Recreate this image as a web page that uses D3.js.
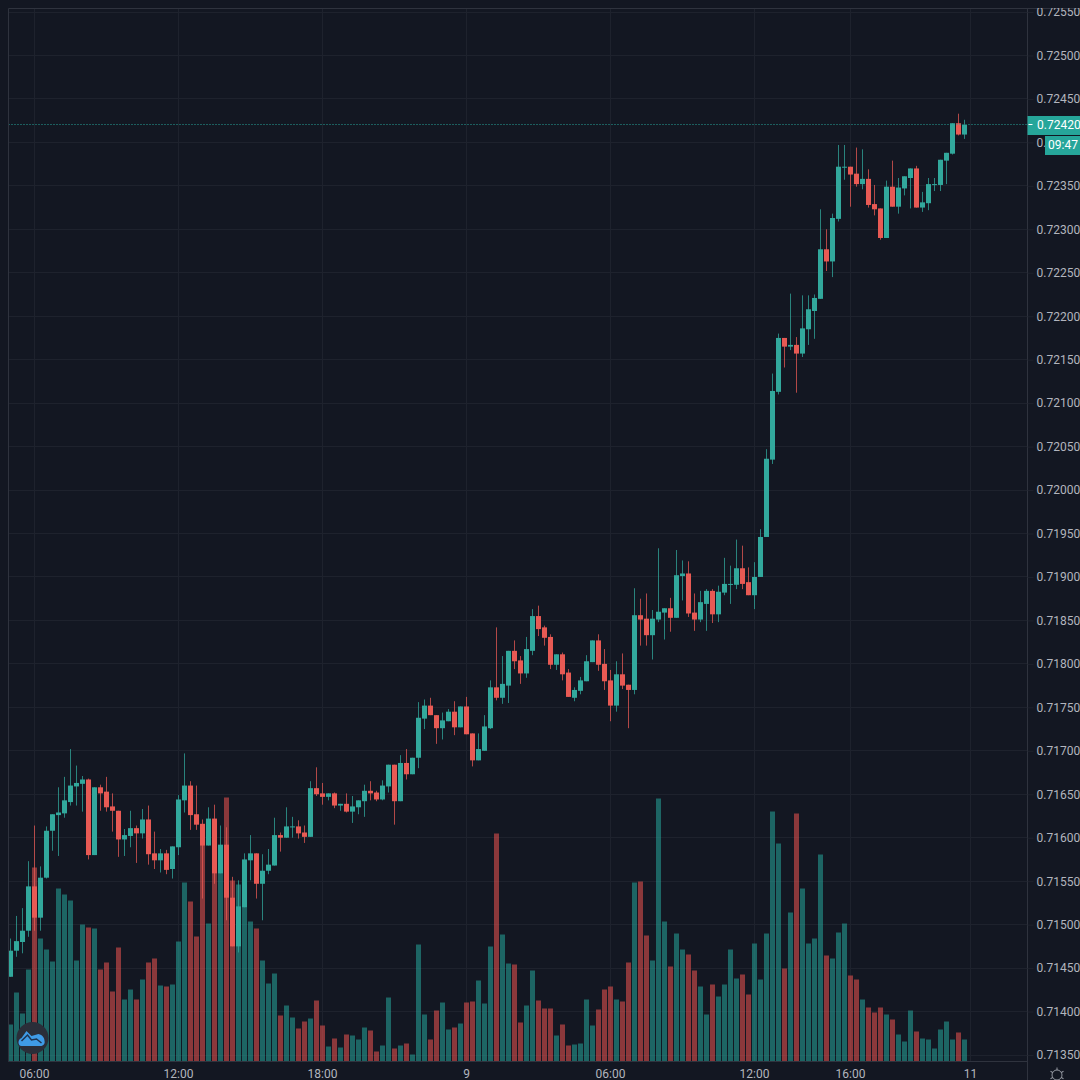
<!DOCTYPE html>
<html>
<head>
<meta charset="utf-8">
<script src="https://cdn.jsdelivr.net/npm/d3@7"></script>
<style>
  html, body { margin: 0; padding: 0; background: #131722; }
  svg { display: block; }
  text { font-family: Roboto, sans-serif; font-size: 12px; }
</style>
</head>
<body>
<svg id="chart" width="1080" height="1080"></svg>
<script>
// prices are in 1/100000, so 71440 reads 0.71440 on the axis
const openPts = [
  71440,71470,71480,71493,71544,71508,71554,71608,71626,71628,
  71641,71659,71662,71667,71580,71658,71653,71636,71631,71598,
  71602,71611,71605,71621,71582,71574,71582,71564,71589,71643,
  71660,71627,71616,71591,71622,71559,71592,71531,71475,71520,
  71574,71582,71547,71562,71568,71603,71600,71612,71613,71606,
  71601,71657,71651,71647,71651,71637,71639,71630,71635,71642,
  71654,71652,71644,71659,71684,71642,71686,71673,71692,71737,
  71752,71741,71726,71734,71745,71727,71751,71720,71689,71700,
  71726,71773,71761,71775,71815,71804,71789,71815,71855,71842,
  71831,71799,71811,71790,71761,71769,71780,71802,71827,71800,
  71781,71752,71788,71776,71770,71856,71852,71833,71851,71859,
  71864,71853,71901,71904,71859,71851,71869,71884,71857,71882,
  71891,71891,71910,71894,71879,71900,71946,72035,72113,72175,
  72165,72167,72157,72185,72206,72220,72277,72263,72312,72371,
  72372,72364,72352,72358,72329,72324,72290,72349,72326,72347,
  72359,72370,72325,72330,72351,72351,72379,72387,72422,72409
];
const highPts = [
  71484,71510,71519,71573,71614,71567,71613,71627,71658,71670,
  71702,71683,71671,71668,71658,71661,71670,71651,71631,71610,
  71631,71614,71633,71637,71607,71587,71586,71590,71649,71697,
  71665,71660,71621,71635,71638,71614,71612,71555,71551,71582,
  71603,71582,71581,71587,71623,71606,71635,71624,71620,71614,
  71665,71681,71663,71651,71652,71639,71651,71648,71643,71661,
  71665,71654,71666,71684,71684,71695,71702,71692,71756,71759,
  71761,71741,71744,71748,71757,71751,71762,71720,71720,71741,
  71781,71842,71809,71815,71827,71809,71831,71863,71867,71844,
  71834,71811,71813,71794,71773,71785,71810,71827,71834,71817,
  71793,71803,71812,71776,71887,71875,71881,71862,71933,71864,
  71876,71931,71919,71918,71881,71884,71886,71886,71890,71922,
  71913,71943,71936,71911,71917,71955,72047,72134,72180,72175,
  72226,72176,72224,72224,72225,72323,72300,72318,72397,72397,
  72372,72394,72392,72369,72351,72324,72356,72379,72359,72361,
  72370,72373,72343,72359,72359,72380,72388,72422,72433,72426
];
const lowPts = [
  71440,71463,71467,71486,71493,71493,71553,71585,71579,71623,
  71637,71637,71630,71575,71580,71631,71630,71607,71578,71579,
  71589,71571,71599,71569,71564,71560,71558,71553,71580,71629,
  71609,71609,71530,71591,71547,71559,71505,71475,71468,71520,
  71551,71530,71505,71558,71568,71584,71600,71600,71599,71594,
  71601,71648,71638,71643,71634,71631,71629,71617,71627,71624,
  71643,71642,71643,71652,71615,71642,71667,71673,71680,71725,
  71741,71708,71713,71734,71718,71727,71719,71682,71689,71700,
  71725,71758,71754,71755,71794,71777,71784,71810,71832,71821,
  71794,71793,71781,71762,71757,71765,71780,71802,71792,71770,
  71734,71745,71771,71726,71765,71821,71821,71805,71848,71828,
  71837,71853,71873,71854,71838,71848,71838,71847,71848,71879,
  71869,71886,71886,71879,71863,71900,71946,72030,72110,72141,
  72161,72112,72153,72167,72174,72220,72252,72245,72309,72357,
  72326,72349,72346,72325,72316,72288,72290,72326,72318,72339,
  72324,72325,72320,72322,72344,72344,72352,72386,72408,72404
];
const closePts = [
  71470,71481,71493,71544,71508,71554,71608,71627,71629,71643,
  71660,71663,71667,71580,71658,71651,71635,71631,71598,71603,
  71611,71605,71621,71581,71574,71582,71563,71590,71644,71660,
  71626,71615,71591,71622,71559,71592,71531,71475,71521,71575,
  71582,71547,71562,71569,71603,71600,71613,71613,71605,71601,
  71657,71650,71647,71651,71637,71639,71630,71636,71643,71654,
  71651,71644,71660,71684,71642,71686,71673,71692,71738,71752,
  71741,71726,71735,71745,71727,71751,71719,71689,71702,71728,
  71773,71761,71777,71815,71803,71789,71817,71855,71840,71830,
  71799,71811,71788,71762,71770,71781,71803,71827,71799,71780,
  71752,71788,71775,71770,71856,71851,71833,71852,71860,71864,
  71853,71902,71904,71858,71851,71871,71884,71857,71883,71892,
  71892,71910,71892,71879,71900,71946,72036,72114,72175,72165,
  72167,72157,72186,72208,72221,72277,72263,72313,72372,72372,
  72363,72352,72358,72328,72323,72290,72349,72326,72348,72361,
  72370,72325,72331,72352,72352,72380,72388,72422,72409,72420
];
const volumes = [
  37,69,48,92,194,123,112,100,173,167,
  161,101,137,134,133,92,99,70,114,62,
  72,62,82,99,103,76,75,77,120,179,
  160,125,217,138,190,189,264,181,177,155,
  140,133,101,78,88,46,56,44,33,40,
  43,61,36,15,23,14,27,26,22,34,
  31,10,16,64,13,16,18,7,117,47,
  22,51,59,32,34,38,59,60,81,58,
  115,228,127,98,97,39,56,91,61,53,
  53,26,37,16,17,18,62,36,52,72,
  75,62,60,99,179,180,126,101,263,140,
  95,128,112,107,91,75,47,77,65,77,
  112,83,87,67,118,82,128,250,218,93,
  149,248,173,118,123,207,106,103,129,138,
  86,82,62,54,49,54,47,42,27,20,
  51,30,23,22,13,32,40,22,29,22
];

const timeTickBars = [4, 28, 52, 76, 100, 124, 140, 160];
const timeTickLabels = ['06:00', '12:00', '18:00', '9', '06:00', '12:00', '16:00', '11'];
const priceTicks = d3.range(71350, 72551, 50);
const lastPrice = 72420;
const countdown = '09:47';

const upColor = '#32a89c';
const downColor = '#e85a54';
const bgColor = '#131722';
const gridColor = '#1e222d';
const borderColor = '#2f333e';
const textColor = '#b2b5be';

const plot = { left: 8.5, right: 1027.5, top: 8.5, bottom: 1061.5 };
const bodyWidth = 5;
const fmtPrice = (p) => (p / 100000).toFixed(5);

const xScale = d3.scaleLinear().domain([0, 159]).range([10.5, 964.5]);
const yScale = d3.scaleLinear().domain([71350, 72550]).range([1055, 12]);
const volScale = d3.scaleLinear().domain([0, 264]).range([plot.bottom, plot.bottom - 264]);

const bars = openPts.map((o, i) => ({
  i: i, open: o, high: highPts[i], low: lowPts[i], close: closePts[i], vol: volumes[i],
  up: closePts[i] >= o
}));

const svg = d3.select('#chart');

svg.append('rect')
  .attr('width', 1080)
  .attr('height', 1080)
  .attr('fill', bgColor);

// grid
const grid = svg.append('g').attr('class', 'grid');
grid.selectAll('.h')
  .data(priceTicks)
  .join('line')
  .attr('class', 'h')
  .attr('x1', plot.left)
  .attr('x2', plot.right)
  .attr('y1', (d) => Math.floor(yScale(d)) + 0.5)
  .attr('y2', (d) => Math.floor(yScale(d)) + 0.5)
  .attr('stroke', gridColor);
grid.selectAll('.v')
  .data(timeTickBars)
  .join('line')
  .attr('class', 'v')
  .attr('x1', (d) => xScale(d))
  .attr('x2', (d) => xScale(d))
  .attr('y1', plot.top)
  .attr('y2', plot.bottom)
  .attr('stroke', gridColor);

// volume
svg.append('g')
  .selectAll('rect')
  .data(bars)
  .join('rect')
  .attr('x', (d) => xScale(d.i) - bodyWidth / 2)
  .attr('y', (d) => volScale(d.vol))
  .attr('width', bodyWidth)
  .attr('height', (d) => plot.bottom - volScale(d.vol))
  .attr('fill', (d) => d.up ? '#26a69a' : '#ef5350')
  .attr('fill-opacity', 0.55);

// candles
const candle = svg.append('g')
  .selectAll('g')
  .data(bars)
  .join('g')
  .attr('fill', (d) => d.up ? upColor : downColor)
  .attr('stroke', (d) => d.up ? upColor : downColor);
candle.append('line')
  .attr('x1', (d) => xScale(d.i))
  .attr('x2', (d) => xScale(d.i))
  .attr('y1', (d) => yScale(d.high))
  .attr('y2', (d) => yScale(d.low))
  .attr('stroke-opacity', 0.75);
candle.append('rect')
  .attr('x', (d) => xScale(d.i) - bodyWidth / 2)
  .attr('y', (d) => yScale(Math.max(d.open, d.close)))
  .attr('width', bodyWidth)
  .attr('height', (d) => Math.max(1, Math.abs(yScale(d.open) - yScale(d.close))))
  .attr('stroke', 'none');

// last price line
svg.append('line')
  .attr('x1', plot.left)
  .attr('x2', plot.right)
  .attr('y1', Math.floor(yScale(lastPrice)) + 0.5)
  .attr('y2', Math.floor(yScale(lastPrice)) + 0.5)
  .attr('stroke', '#26a69a')
  .attr('stroke-dasharray', '1,2');

// frame
svg.append('path')
  .attr('d', `M${plot.left},${plot.bottom}V${plot.top}H1080M${plot.right},${plot.top}V1080M${plot.left},${plot.bottom}H${plot.right}`)
  .attr('fill', 'none')
  .attr('stroke', borderColor);

// axes
const yAxis = d3.axisRight(yScale)
  .tickValues(priceTicks)
  .tickFormat(fmtPrice)
  .tickSize(6)
  .tickPadding(3)
  .tickSizeOuter(0);
svg.append('g')
  .attr('class', 'axis y-axis')
  .attr('transform', `translate(${plot.right},0)`)
  .call(yAxis)
  .call((g) => g.select('.domain').remove())
  .call((g) => g.selectAll('line').attr('stroke', gridColor))
  .call((g) => g.selectAll('text').attr('fill', textColor).style('font-size', '12px'));

// cover what rises over the top edge of the price scale
svg.append('rect')
  .attr('x', plot.right + 0.5)
  .attr('y', 0)
  .attr('width', 1080 - plot.right)
  .attr('height', plot.top - 0.5)
  .attr('fill', bgColor);

const xAxis = d3.axisBottom(xScale)
  .tickValues(timeTickBars)
  .tickFormat((d, i) => timeTickLabels[i])
  .tickSize(0)
  .tickPadding(8);
svg.append('g')
  .attr('class', 'axis x-axis')
  .attr('transform', `translate(-0.5,${plot.bottom})`)
  .call(xAxis)
  .call((g) => g.select('.domain').remove())
  .call((g) => g.selectAll('text').attr('fill', textColor).style('font-size', '12px'));

// last price and countdown labels
const lastY = yScale(lastPrice);
svg.append('rect')
  .attr('x', plot.right)
  .attr('y', lastY - 9)
  .attr('width', 1080 - plot.right)
  .attr('height', 19)
  .attr('fill', '#26a69a');
svg.append('line')
  .attr('x1', plot.right + 1)
  .attr('x2', plot.right + 5)
  .attr('y1', Math.floor(lastY) + 0.5)
  .attr('y2', Math.floor(lastY) + 0.5)
  .attr('stroke', '#fff');
svg.append('text')
  .attr('x', plot.right + 9.5)
  .attr('y', lastY + 4.5)
  .attr('fill', '#fff')
  .text(fmtPrice(lastPrice));
svg.append('rect')
  .attr('x', 1045)
  .attr('y', lastY + 11)
  .attr('width', 35)
  .attr('height', 19)
  .attr('fill', '#26a69a');
svg.append('text')
  .attr('x', 1048)
  .attr('y', lastY + 24.5)
  .attr('fill', '#fff')
  .text(countdown);

// settings icon
const gear = svg.append('g')
  .attr('transform', 'translate(1057,1075)')
  .attr('fill', 'none')
  .attr('stroke', textColor)
  .attr('stroke-opacity', 0.8);
gear.append('circle').attr('r', 5);
gear.selectAll('line')
  .data(d3.range(0, 360, 60))
  .join('line')
  .attr('x1', 5)
  .attr('x2', 7.5)
  .attr('transform', (d) => `rotate(${d + 30})`);

// logo badge
const logo = svg.append('g').attr('transform', 'translate(32.5,1038)');
logo.append('circle').attr('r', 16).attr('fill', '#2a2e39');
logo.append('path')
  .attr('d', 'M-11,8 C-15,8 -15,1 -11,0 L-6,-7 L-1,-2 L6,-4 C10,-3 12,0 12,3 C13,6 10,8 8,8 Z')
  .attr('fill', '#3f9be6');
logo.append('path')
  .attr('d', 'M-11,3 L-5,-3 L-1,2 L4,1 L9,5')
  .attr('fill', 'none')
  .attr('stroke', '#1e3350')
  .attr('stroke-width', 1.5);
</script>
</body>
</html>
